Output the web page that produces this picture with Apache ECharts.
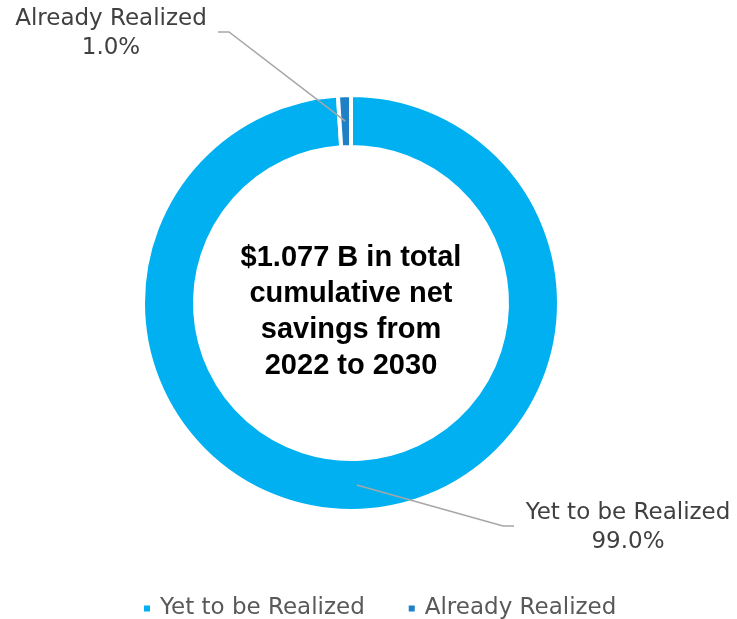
<!DOCTYPE html>
<html><head><meta charset="utf-8">
<script src="https://cdn.jsdelivr.net/npm/echarts@6/dist/echarts.min.js"></script>
<style>html,body{margin:0;padding:0;background:#fff}#c{width:737px;height:619px}</style>
</head><body><div id="c"></div>
<script>
const categories = ['Yet to be Realized', 'Already Realized'];
const shares = [99.0, 1.0];
const colors = ['#00B0F0', '#1F80C6'];
const centerText = ['$1.077 B in total', 'cumulative net', 'savings from', '2022 to 2030'];

const labelFont = 'DejaVu Sans';
// label placement (layout only): centre of label block, elbow x, line end x
const labelPos = [
  { x: 628, y: 528, bx: 503, ex: 514, ly: 526 },
  { x: 111, y: 34, bx: 229, ex: 218, ly: 32 }
];

const chart = echarts.init(document.getElementById('c'), null, { renderer: 'canvas' });
const ringData = categories.map((n, i) => ({ name: n, value: shares[i], itemStyle: { color: colors[i] } }));
const labelData = categories.map((n, i) => ({ name: n, value: shares[i] }));

const option = {
  animation: false,
  backgroundColor: '#ffffff',
  legend: {
    data: categories.map((n, i) => ({ name: n, itemStyle: { color: colors[i] } })),
    left: 142, top: 597, padding: 0,
    icon: 'rect', itemWidth: 8, itemHeight: 8, itemGap: 42,
    textStyle: { fontFamily: labelFont, fontSize: 23, color: '#595959', padding: [0, 0, 0, 4] },
    selectedMode: false
  },
  graphic: [{
    type: 'text', x: 351, y: 312, silent: true,
    style: {
      text: centerText.join('\n'), align: 'center', verticalAlign: 'middle',
      fontFamily: 'Liberation Sans', fontWeight: 'bold', fontSize: 29, lineHeight: 36, fill: '#000000'
    }
  }],
  series: [
    {
      type: 'pie', name: 'ring', center: [351, 303], radius: [156, 208], startAngle: 90, clockwise: true,
      data: ringData, label: { show: false }, labelLine: { show: false },
      itemStyle: { borderColor: '#ffffff', borderWidth: 4 },
      emphasis: { disabled: true }, silent: true, z: 2
    },
    {
      type: 'pie', name: 'labels', center: [351, 303], radius: [0, 182], startAngle: 90, clockwise: true,
      data: labelData, avoidLabelOverlap: false,
      itemStyle: { color: 'rgba(0,0,0,0)', borderWidth: 0 },
      label: {
        show: true, position: 'outside',
        formatter: function (p) { return p.name + '\n' + p.percent.toFixed(1) + '%'; },
        color: '#404040', fontFamily: labelFont, fontSize: 23, lineHeight: 29
      },
      labelLine: { show: true, lineStyle: { color: '#A6A6A6', width: 1.5 } },
      labelLayout: function (p) {
        const L = labelPos[p.dataIndex];
        const res = { x: L.x, y: L.y, align: 'center', verticalAlign: 'middle' };
        if (p.labelLinePoints && p.labelLinePoints.length) {
          res.labelLinePoints = [p.labelLinePoints[0], [L.bx, L.ly], [L.ex, L.ly]];
        }
        return res;
      },
      emphasis: { disabled: true }, silent: true, z: 3
    }
  ]
};
chart.setOption(option);
</script>
</body></html>
